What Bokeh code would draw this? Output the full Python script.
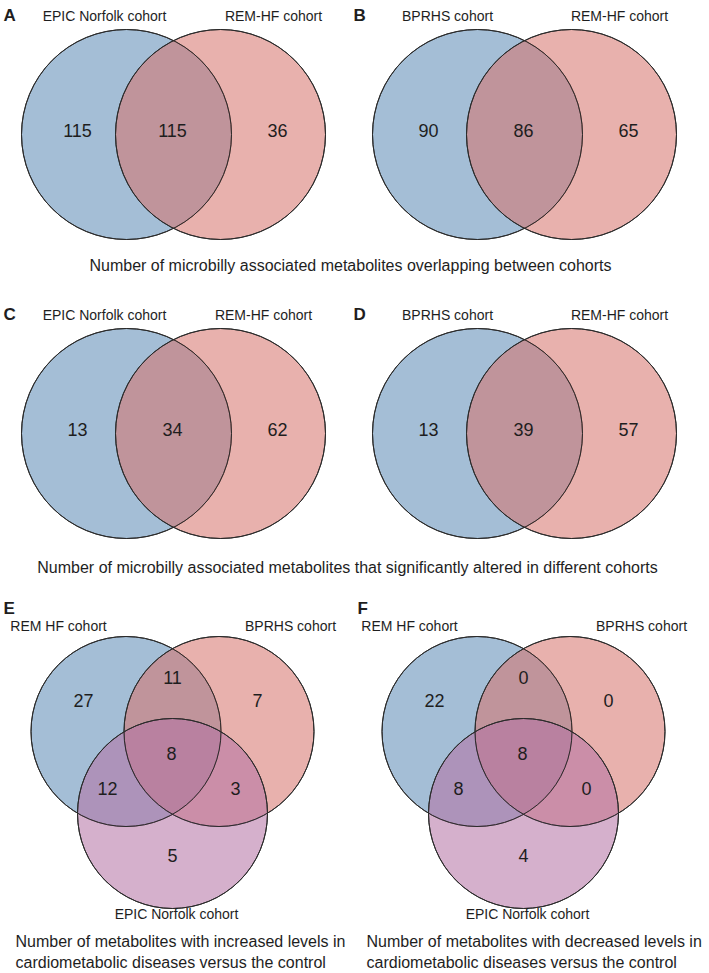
from bokeh.plotting import figure
from bokeh.models import Range1d, ColumnDataSource
from bokeh.core.properties import value
from bokeh.embed import file_html
from bokeh.resources import INLINE

# ---------------- data ----------------
panel_letters = ["A", "B", "C", "D", "E", "F"]

# two-set panels: [left only, both, right only]
two_set_names = [
    ("EPIC Norfolk cohort", "REM-HF cohort"),
    ("BPRHS cohort", "REM-HF cohort"),
    ("EPIC Norfolk cohort", "REM-HF cohort"),
    ("BPRHS cohort", "REM-HF cohort"),
]
two_set_counts_A = [115, 115, 36]
two_set_counts_B = [90, 86, 65]
two_set_counts_C = [13, 34, 62]
two_set_counts_D = [13, 39, 57]

# three-set panels: sets REM HF, BPRHS, EPIC Norfolk
three_set_names = ["REM HF cohort", "BPRHS cohort", "EPIC Norfolk cohort"]
# order: REM only, REM&BPRHS, BPRHS only, all, REM&EPIC, BPRHS&EPIC, EPIC only
three_set_counts_E = [27, 11, 7, 8, 12, 3, 5]
three_set_counts_F = [22, 0, 0, 8, 8, 0, 4]

caption_top = "Number of microbilly associated metabolites overlapping between cohorts"
caption_mid = "Number of microbilly associated metabolites that significantly altered in different cohorts"
caption_E = ["Number of metabolites with increased levels in",
             "cardiometabolic diseases versus the control"]
caption_F = ["Number of metabolites with decreased levels in",
             "cardiometabolic diseases versus the control"]

# ---------------- style ----------------
FONT = value("Liberation Sans")
TXT = "#1e1e1e"
BLUE = (92, 139, 182)
RED = (214, 116, 109)
PURPLE = (180, 114, 164)
ALPHA = 0.56
EDGE = "#2b2b2b"

W, H = 709, 973
p = figure(width=W, height=H, output_backend="svg", toolbar_location=None,
           x_range=Range1d(0, W), y_range=Range1d(H, 0),
           min_border=0)
p.axis.visible = False
p.grid.visible = False
p.outline_line_color = None
p.background_fill_color = "white"
p.border_fill_color = "white"


def rgb(c):
    return "#%02x%02x%02x" % c


def txt(x, y, s, size, align="center", bold=False, baseline="middle"):
    src = ColumnDataSource(dict(x=[x], y=[y], t=[s]))
    p.text("x", "y", "t", source=src, text_font=FONT,
           text_font_size=value(size), text_align=align,
           text_baseline=baseline, text_color=TXT,
           text_font_style="bold" if bold else "normal")


# ---------------- two-set panels ----------------
two_origins = [(0, 0), (351, 0), (0, 299), (351, 299)]
two_counts = [two_set_counts_A, two_set_counts_B, two_set_counts_C, two_set_counts_D]
two_label_x = [(104, 273), (96, 268), (104, 263), (96, 268)]
R2 = 105
for i, (ox, oy) in enumerate(two_origins):
    cy = oy + 134
    cx = [ox + 126, ox + 220]
    for c, col in zip(cx, [BLUE, RED]):
        p.circle(x=[c], y=[cy], radius=R2, fill_color=rgb(col), fill_alpha=ALPHA,
                 line_color=EDGE, line_width=1)
    for c, col in zip(cx, [BLUE, RED]):
        p.circle(x=[c], y=[cy], radius=R2, fill_color=None,
                 line_color=EDGE, line_width=1)
    nx = [ox + 77, ox + 172, ox + 277]
    for x, n in zip(nx, two_counts[i]):
        txt(x, oy + 130, str(n), "18px")
    lx = two_label_x[i]
    txt(ox + lx[0], oy + 15, two_set_names[i][0], "14px")
    txt(ox + lx[1], oy + 15, two_set_names[i][1], "14px")
    txt(ox + (3 if ox == 0 else 2), oy + 15, panel_letters[i], "17px", align="left", bold=True)

txt(350, 265, caption_top, "16px")
txt(347, 567, caption_mid, "16px")

# ---------------- three-set panels ----------------
three_origins = [(0, 600), (351, 600)]
three_counts = [three_set_counts_E, three_set_counts_F]
R3 = 95
centers3 = [(125.5, 131), (218.5, 131), (172, 213)]
num_pos3 = [(83, 100), (172, 77), (257, 100), (171, 153), (107, 188), (235, 188), (172, 255)]
caps3 = [caption_E, caption_F]
cap_x = [15, 366]
for j, (ox, oy) in enumerate(three_origins):
    for (cx, cy), col in zip(centers3, [BLUE, RED, PURPLE]):
        p.circle(x=[ox + cx], y=[oy + cy], radius=R3, fill_color=rgb(col),
                 fill_alpha=ALPHA, line_color=EDGE, line_width=1)
    for (cx, cy) in centers3:
        p.circle(x=[ox + cx], y=[oy + cy], radius=R3, fill_color=None,
                 line_color=EDGE, line_width=1)
    for (x, y), n in zip(num_pos3, three_counts[j]):
        txt(ox + x, oy + y, str(n), "18px")
    txt(ox + 58, oy + 25, three_set_names[0], "14px")
    txt(ox + 290, oy + 25, three_set_names[1], "14px")
    txt(ox + 176, oy + 313, three_set_names[2], "14px")
    txt(ox + (3 if ox == 0 else 6), oy + 8, panel_letters[4 + j], "17px", align="left", bold=True)
    txt(cap_x[j], 941, caps3[j][0], "16px", align="left")
    txt(cap_x[j], 962, caps3[j][1], "16px", align="left")

open("out.html", "w").write(file_html(p, INLINE))
